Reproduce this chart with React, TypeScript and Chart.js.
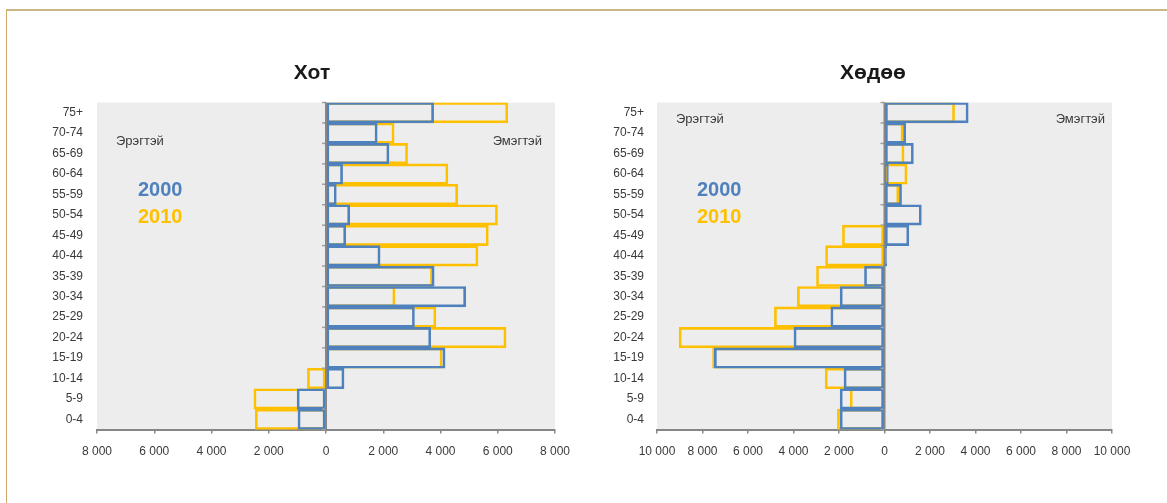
import { useEffect, useRef } from 'react';
import { Chart, registerables } from 'chart.js';

Chart.register(...registerables);

// ---- data ----
const AGE_GROUPS = ['75+', '70-74', '65-69', '60-64', '55-59', '50-54', '45-49', '40-44', '35-39', '30-34', '25-29', '20-24', '15-19', '10-14', '5-9', '0-4'];
const SERIES_LABELS = ['2000', '2010'];
const CHART_TITLES = ['Хот', 'Хөдөө'];
const SIDE_LABELS = ['Эрэгтэй', 'Эмэгтэй'];

const CITY_2000 = [3760, 1790, 2200, 580, 360, 830, 690, 1890, 3780, 4880, 3090, 3660, 4160, 630, -1010, -980];
const CITY_2010 = [6350, 2380, 2850, 4260, 4600, 5990, 5670, 5310, 3720, 2410, 3840, 6290, 4060, -650, -2520, -2470];
const RURAL_2000 = [3680, 930, 1270, 170, 750, 1620, 1070, 100, -880, -1950, -2360, -3980, -7480, -1780, -1950, -1950];
const RURAL_2010 = [3080, 820, 860, 990, 630, 90, -1850, -2590, -2990, -3830, -4840, -9030, -7560, -2610, -1510, -2070];

const CITY_AXIS_MAX = 8000;
const RURAL_AXIS_MAX = 10000;
const AXIS_STEP = 2000;

// ---- style ----
const BLUE = '#4F81BD';
const ORANGE = '#FFC000';
const PLOT_BG = '#EDEDED';
const AXIS_GRAY = '#868686';
const TEXT = '#3A3A3A';
const FAMILY = "Arial, 'Liberation Sans', Helvetica, sans-serif";

function fmt(v: number): string {
  return String(Math.abs(Number(v))).replace(/\B(?=(\d{3})+(?!\d))/g, ' ');
}

type Note = { text: string; side: 'left' | 'right'; offset: number; at: number; color: string; size: number; bold: boolean };

const decorPlugin = {
  id: 'decor',
  beforeDraw(chart: any) {
    const { ctx, chartArea: a } = chart;
    ctx.save();
    ctx.fillStyle = PLOT_BG;
    ctx.fillRect(a.left, a.top, a.right - a.left, a.bottom - a.top);
    ctx.restore();
  },
  afterDatasetsDraw(chart: any) {
    const { ctx, chartArea: a, scales } = chart;
    const x0 = scales.x.getPixelForValue(0);
    const ys = scales.y;
    const n = chart.data.labels.length;
    ctx.save();
    ctx.strokeStyle = '#A0A0A0';
    ctx.lineWidth = 1.5;
    for (let i = 0; i <= n; i++) {
      const py = ys.getPixelForValue(i - 0.5);
      ctx.beginPath();
      ctx.moveTo(x0 - 4, py);
      ctx.lineTo(x0, py);
      ctx.stroke();
    }
    ctx.strokeStyle = AXIS_GRAY;
    ctx.lineWidth = 2;
    ctx.beginPath();
    ctx.moveTo(x0, a.top);
    ctx.lineTo(x0, a.bottom);
    ctx.stroke();
    ctx.restore();
  },
  afterDraw(chart: any, _args: any, opts: any) {
    const { ctx, chartArea: a, scales } = chart;
    const notes: Note[] = opts.notes || [];
    ctx.save();
    ctx.textBaseline = 'middle';
    // chart title, centred on the whole canvas (labels included)
    ctx.font = `bold 21px ${FAMILY}`;
    ctx.fillStyle = '#1A1A1A';
    ctx.textAlign = 'center';
    ctx.fillText(opts.title, chart.width / 2, opts.titleY);
    for (const n of notes) {
      ctx.font = `${n.bold ? 'bold ' : ''}${n.size}px ${FAMILY}`;
      ctx.fillStyle = n.color;
      const y = scales.y.getPixelForValue(n.at);
      if (n.side === 'left') {
        ctx.textAlign = 'left';
        ctx.fillText(n.text, a.left + n.offset, y);
      } else {
        ctx.textAlign = 'right';
        ctx.fillText(n.text, a.right - n.offset, y);
      }
    }
    ctx.restore();
  },
};

type PyramidProps = {
  title: string;
  max: number;
  v2000: number[];
  v2010: number[];
  left: number;
  width: number;
  padRight: number;
  axisWidth: number;
  labelPad: number;
  notes: Note[];
};

const CANVAS_TOP = 50;
const CANVAS_H = 420;

function Pyramid({ title, max, v2000, v2010, left, width, padRight, axisWidth, labelPad, notes }: PyramidProps) {
  const ref = useRef<HTMLCanvasElement>(null);
  useEffect(() => {
    const common = {
      backgroundColor: 'rgba(0,0,0,0)',
      borderWidth: 2,
      borderSkipped: false,
      grouped: false,
      barPercentage: 1,
      categoryPercentage: 1,
    };
    const chart = new Chart(ref.current as HTMLCanvasElement, {
      type: 'bar',
      data: {
        labels: AGE_GROUPS,
        datasets: [
          { ...common, label: SERIES_LABELS[0], data: v2000, borderColor: BLUE },
          { ...common, label: SERIES_LABELS[1], data: v2010, borderColor: ORANGE },
        ] as any,
      },
      options: {
        indexAxis: 'y',
        responsive: false,
        animation: false,
        devicePixelRatio: 1,
        layout: { padding: { right: padRight, left: 0, top: 52.5, bottom: 0 } },
        scales: {
          x: {
            min: -max,
            max: max,
            ticks: {
              stepSize: AXIS_STEP,
              callback: (v: any) => fmt(v),
              color: TEXT,
              font: { size: 12, family: FAMILY },
              padding: 11,
              maxRotation: 0,
              autoSkip: false,
            },
            grid: { drawOnChartArea: false, drawTicks: true, tickLength: 4, color: AXIS_GRAY, lineWidth: 1.5 },
            border: { display: true, color: AXIS_GRAY, width: 2 },
          },
          y: {
            afterFit: (s: any) => {
              s.width = axisWidth;
            },
            ticks: { color: TEXT, font: { size: 12, family: FAMILY }, padding: labelPad, autoSkip: false },
            grid: { display: false, drawTicks: false },
            border: { display: false },
          },
        },
        plugins: {
          legend: { display: false },
          tooltip: { enabled: false },
          title: { display: false },
          decor: { notes, title, titleY: 23 },
        } as any,
      } as any,
      plugins: [decorPlugin],
    });
    return () => chart.destroy();
  }, []);
  return (
    <canvas
      ref={ref}
      width={width}
      height={CANVAS_H}
      style={{ position: 'absolute', left, top: CANVAS_TOP, width, height: CANVAS_H }}
    />
  );
}

function makeNotes(maleAt: number, femaleOffset: number, yearOffset: number): Note[] {
  return [
    { text: SIDE_LABELS[0], side: 'left', offset: 19, at: maleAt, color: TEXT, size: 13, bold: false },
    { text: SIDE_LABELS[1], side: 'right', offset: femaleOffset, at: maleAt, color: TEXT, size: 13, bold: false },
    { text: SERIES_LABELS[0], side: 'left', offset: yearOffset, at: 3.82, color: BLUE, size: 20, bold: true },
    { text: SERIES_LABELS[1], side: 'left', offset: yearOffset, at: 5.14, color: ORANGE, size: 20, bold: true },
  ];
}

export default function App() {
  return (
    <div style={{ position: 'fixed', inset: 0, overflow: 'hidden', background: '#fff' }}>
      <div
        style={{
          position: 'absolute',
          left: 6,
          top: 9,
          right: -20,
          bottom: -20,
          borderTop: '2px solid #CBB487',
          borderLeft: '1px solid #D0AC68',
        }}
      />
      <Pyramid
        title={CHART_TITLES[0]}
        max={CITY_AXIS_MAX}
        v2000={CITY_2000}
        v2010={CITY_2010}
        left={40}
        width={544}
        padRight={29}
        axisWidth={57}
        labelPad={14}
        notes={makeNotes(1.4, 13, 41)}
      />
      <Pyramid
        title={CHART_TITLES[1]}
        max={RURAL_AXIS_MAX}
        v2000={RURAL_2000}
        v2010={RURAL_2010}
        left={600}
        width={546}
        padRight={34}
        axisWidth={57}
        labelPad={13}
        notes={makeNotes(0.35, 7, 40)}
      />
    </div>
  );
}
